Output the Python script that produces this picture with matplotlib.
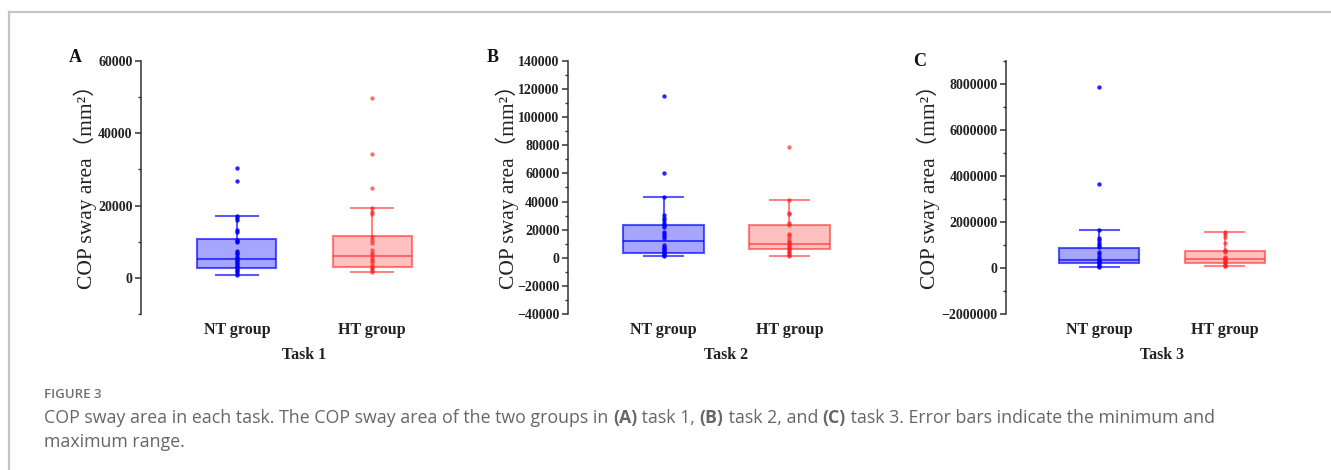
import matplotlib
matplotlib.use('Agg')
import matplotlib.pyplot as plt
from matplotlib.lines import Line2D
from matplotlib.ticker import MultipleLocator

# ---- data ----
groups = ['NT group', 'HT group']
tasks = ['Task 1', 'Task 2', 'Task 3']
panel_letters = ['A', 'B', 'C']

# box stats per task: (whislo, q1, median, q3, whishi)
task1_nt_stats = [920, 2860, 5350, 10700, 17200]
task1_ht_stats = [1570, 3050, 6000, 11500, 19400]
task2_nt_stats = [1400, 3500, 11800, 23600, 43300]
task2_ht_stats = [1200, 5900, 9500, 23200, 41400]
task3_nt_stats = [40000, 220000, 360000, 880000, 1650000]
task3_ht_stats = [70000, 220000, 390000, 750000, 1550000]

# individual points
task1_nt_pts = [30300, 26900, 17200, 16500, 16000, 13200, 12800, 10600, 10300, 10000,
                7300, 6900, 6500, 5900, 5400, 5000, 4600, 4200, 3800, 3400, 3000,
                2600, 2200, 1800, 1400, 900]
task1_ht_pts = [49700, 34200, 24900, 19400, 18300, 17600, 11300, 10400, 9600, 7600,
                7000, 6200, 5600, 5000, 4300, 3600, 3100, 2600, 2100, 1600]
task2_nt_pts = [115200, 60300, 43300, 30300, 28500, 27200, 25000, 23000, 22000, 18200,
                17000, 15400, 14000, 9000, 8000, 7000, 6000, 5000, 4000, 3000, 2000, 1400]
task2_ht_pts = [78700, 41400, 32200, 31000, 25000, 23000, 17000, 16000, 14000, 12000,
                11000, 10000, 9000, 8000, 7000, 6000, 5000, 4000, 3000, 2000, 1200]
task3_nt_pts = [7860000, 3640000, 1650000, 1300000, 1200000, 1100000, 1000000, 900000,
                700000, 600000, 500000, 400000, 350000, 300000, 250000, 200000, 150000,
                100000, 50000]
task3_ht_pts = [1580000, 1500000, 1350000, 1100000, 800000, 750000, 700000, 500000,
                450000, 400000, 350000, 300000, 250000, 200000, 150000, 100000, 70000]

y_limits = [(-10000, 60000), (-40000, 140000), (-2000000, 9000000)]
y_major = [20000, 20000, 2000000]

W, H = 1331, 470
SERIF = ['Liberation Serif', 'DejaVu Serif']
BLUE = '#0000ff'
RED = '#ff2020'


def stats_dict(s):
    lo, q1, med, q3, hi = s
    return dict(whislo=lo, q1=q1, med=med, q3=q3, whishi=hi, fliers=[])


def draw_panel(ax, stats_pair, pts_pair, ylim, major, box_w, margin):
    for i, (st, pts, col, fa, ea) in enumerate(zip(stats_pair, pts_pair, [BLUE, RED],
                                                  [0.35, 0.28], [0.65, 0.55])):
        pos = i + 1
        bp = ax.bxp([stats_dict(st)], positions=[pos], widths=box_w, patch_artist=True,
                    showfliers=False, capwidths=0.31)
        for b in bp['boxes']:
            b.set_facecolor(matplotlib.colors.to_rgba(col, fa))
            b.set_edgecolor(matplotlib.colors.to_rgba(col, ea))
            b.set_linewidth(1.5)
        for key in ['whiskers', 'caps', 'medians']:
            for ln in bp[key]:
                ln.set_color(col)
                ln.set_alpha(ea)
                ln.set_linewidth(1.5)
        ax.scatter([pos] * len(pts), pts, s=10, color=col, alpha=0.85 if i == 0 else 0.65,
                   linewidths=0, zorder=5)

    ax.set_xlim(1 - margin, 2 + margin)
    ax.set_ylim(*ylim)
    ax.yaxis.set_major_locator(MultipleLocator(major))
    ax.yaxis.set_minor_locator(MultipleLocator(major / 2))
    ax.ticklabel_format(axis='y', style='plain', useOffset=False)
    for sp in ['top', 'right', 'bottom']:
        ax.spines[sp].set_visible(False)
    ax.spines['left'].set_color('#333333')
    ax.spines['left'].set_linewidth(1.1)
    ax.tick_params(axis='y', which='major', length=4, width=1.1, color='#333333',
                   labelsize=10, labelcolor='#222222', pad=2)
    ax.tick_params(axis='y', which='minor', length=2.5, width=1.0, color='#333333')
    for lab in ax.get_yticklabels():
        lab.set_fontfamily(SERIF)
        lab.set_fontweight('bold')
    ax.set_xticks([1, 2])
    ax.set_xticklabels([])
    ax.tick_params(axis='x', length=0)


fig = plt.figure(figsize=(W / 100, H / 100), dpi=100)

# panel geometry in pixels: (left, right)
panel_px = [(141, 468), (568, 885), (1006, 1318)]
box_widths = [0.585, 0.64, 0.64]
margins = [0.71, 0.76, 0.74]
ylabel_x = [85, 507, 928]
letter_pos = [(75, 57), (493, 57), (920, 61)]
top_px, bot_px = 61, 314

all_stats = [(task1_nt_stats, task1_ht_stats), (task2_nt_stats, task2_ht_stats),
             (task3_nt_stats, task3_ht_stats)]
all_pts = [(task1_nt_pts, task1_ht_pts), (task2_nt_pts, task2_ht_pts),
           (task3_nt_pts, task3_ht_pts)]

for k in range(3):
    l, r = panel_px[k]
    ax = fig.add_axes([l / W, 1 - bot_px / H, (r - l) / W, (bot_px - top_px) / H])
    draw_panel(ax, all_stats[k], all_pts[k], y_limits[k], y_major[k],
               box_widths[k], margins[k])
    # group labels and task label
    for pos, g in zip([1, 2], groups):
        xf = (ax.transData.transform((pos, 0))[0]) / W
        fig.text(xf, 1 - 330 / H, g, ha='center', va='center', fontsize=11.5,
                 fontweight='bold', family=SERIF, color='#222222')
    xmid = ax.transData.transform((1.5, 0))[0] / W
    fig.text(xmid, 1 - 355 / H, tasks[k], ha='center', va='center', fontsize=11.5,
             fontweight='bold', family=SERIF, color='#222222')
    fig.text(ylabel_x[k] / W, 1 - 182 / H, 'COP sway area（mm²）', rotation=90,
             ha='center', va='center', fontsize=15.5,
             family=['Liberation Serif', 'Noto Sans CJK SC'], color='#222222')
    lx, ly = letter_pos[k]
    fig.text(lx / W, 1 - ly / H, panel_letters[k], ha='center', va='center',
             fontsize=13, fontweight='bold', family=SERIF, color='#111111')

# light frame on top and left
fig.add_artist(Line2D([9 / W, 1], [1 - 12 / H, 1 - 12 / H], color='#c4c4c4', lw=1.6))
fig.add_artist(Line2D([9 / W, 9 / W], [0, 1 - 12 / H], color='#c4c4c4', lw=1.6))

# caption
CAP = ['Open Sans', 'DejaVu Sans']
fig.text(44 / W, 1 - 395 / H, 'FIGURE 3', fontsize=9.5, family=CAP, fontweight='semibold',
         color='#707070', va='center')

renderer = fig.canvas.get_renderer()
pieces = [('COP sway area in each task. The COP sway area of the two groups in ', 'normal'),
          ('(A)', 'bold'), (' task 1, ', 'normal'), ('(B)', 'bold'), (' task 2, and ', 'normal'),
          ('(C)', 'bold'), (' task 3. Error bars indicate the minimum and', 'normal')]
x = 44
for txt, wt in pieces:
    t = fig.text(x / W, 1 - 418 / H, txt, fontsize=12.8, family=CAP, fontweight=wt,
                 color='#666666', va='center')
    x = t.get_window_extent(renderer).x1
fig.text(44 / W, 1 - 442 / H, 'maximum range.', fontsize=12.8, family=CAP, color='#666666',
         va='center')

fig.savefig('out.png', dpi=100)
